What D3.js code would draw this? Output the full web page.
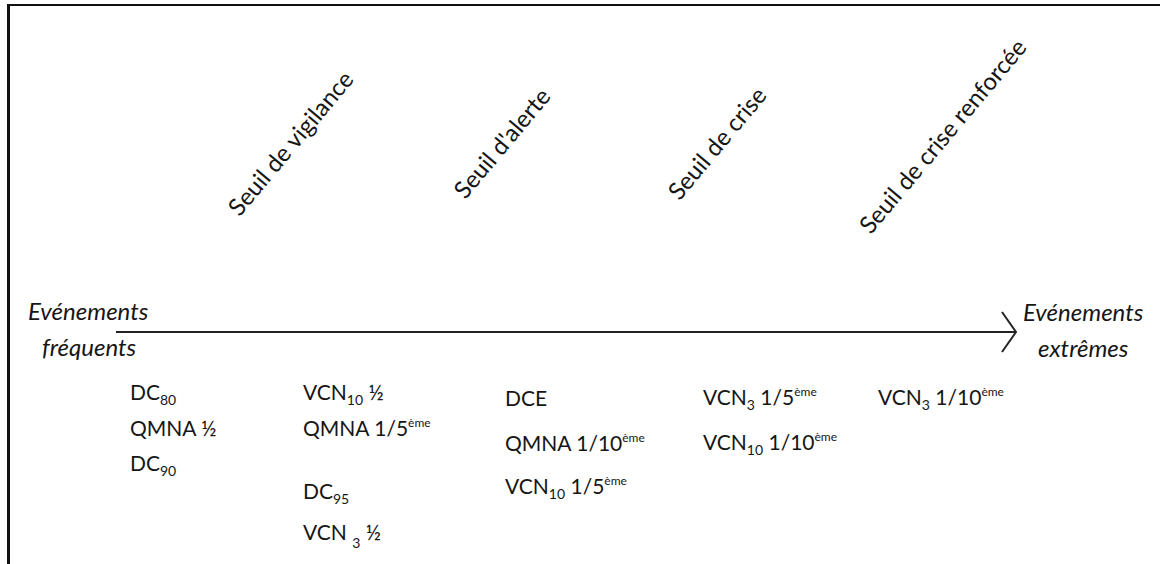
<!DOCTYPE html>
<html><head><meta charset="utf-8">
<script src="https://cdn.jsdelivr.net/npm/d3@7"></script>
<style>
body{margin:0;background:#fff}
svg{display:block}
text{font-family:Lato,'Open Sans',sans-serif;fill:#161616}
</style>
</head><body>
<svg id="chart" width="1160" height="564"></svg>
<script>
// ---- data ----
const thresholds = ["Seuil de vigilance", "Seuil d'alerte", "Seuil de crise", "Seuil de crise renforcée"];
const startLabel = ["Evénements", "fréquents"];
const endLabel = ["Evénements", "extrêmes"];
const col1Indicators = ["DC_{80}", "QMNA ½", "DC_{90}"];
const col2Indicators = ["VCN_{10} ½", "QMNA 1/5^{ème}", "DC_{95}", "VCN _{3} ½"];
const col3Indicators = ["DCE", "QMNA 1/10^{ème}", "VCN_{10} 1/5^{ème}"];
const col4Indicators = ["VCN_{3} 1/5^{ème}", "VCN_{10} 1/10^{ème}"];
const col5Indicators = ["VCN_{3} 1/10^{ème}"];
const columns = [col1Indicators, col2Indicators, col3Indicators, col4Indicators, col5Indicators];

// ---- layout ----
const svg = d3.select("#chart");
const W = 1160, H = 564;
const colIdx = d3.range(columns.length);
const xCol = d3.scaleOrdinal().domain(colIdx).range([130, 303, 505, 703, 878]);
// baseline of each row, per column
const rowY = [[400, 436, 471], [400, 436, 499, 540], [406, 451, 494], [405, 450], [405]];
const thrIdx = d3.range(thresholds.length);
const xThr = d3.scaleOrdinal().domain(thrIdx).range([355, 552, 768, 1028]);
const yThr = d3.scaleOrdinal().domain(thrIdx).range([80, 97, 96, 48]);
const FS = 21, FS_BIG = 24;

// frame
svg.append("line").attr("x1", 8.5).attr("x2", 8.5).attr("y1", 4).attr("y2", H)
  .attr("stroke", "#111").attr("stroke-width", 3);
svg.append("line").attr("x1", 7).attr("x2", W).attr("y1", 5).attr("y2", 5)
  .attr("stroke", "#111").attr("stroke-width", 2);

// axis arrow
const xAxis = d3.scaleLinear().domain([0, 1]).range([116, 1016]);
const yAxis = 332;
const line = d3.line();
svg.append("path").attr("d", line([[xAxis(0), yAxis], [xAxis(1), yAxis]]))
  .attr("stroke", "#222").attr("stroke-width", 2).attr("fill", "none");
svg.append("path").attr("d", line([[xAxis(1) - 14, yAxis - 20], [xAxis(1), yAxis], [xAxis(1) - 14, yAxis + 20]]))
  .attr("stroke", "#222").attr("stroke-width", 2).attr("fill", "none");

// end labels
function twoLine(lines, x, y, dx2) {
  const t = svg.append("text").attr("font-style", "italic").attr("font-size", FS_BIG);
  t.append("tspan").attr("x", x).attr("y", y).text(lines[0]);
  t.append("tspan").attr("x", x + dx2).attr("y", y + 36).text(lines[1]);
}
twoLine(startLabel, 28, 320, 14);
twoLine(endLabel, 1023, 321, 15);

// thresholds (rotated)
svg.selectAll("text.thr").data(thresholds).join("text")
  .attr("class", "thr")
  .attr("font-size", FS_BIG)
  .attr("text-anchor", "end")
  .attr("transform", (d, i) => `translate(${xThr(i)},${yThr(i)}) rotate(-50)`)
  .text(d => d);

// indicator text with sub/superscripts
function parse(s) {
  return s.split(/(_\{[^}]*\}|\^\{[^}]*\})/).filter(p => p.length).map(p => {
    if (p.startsWith("_{")) return {t: p.slice(2, -1), k: "sub"};
    if (p.startsWith("^{")) return {t: p.slice(2, -1), k: "sup"};
    return {t: p, k: "n"};
  });
}
const offs = {n: 0, sub: 5, sup: -9};
const sizes = {n: FS, sub: 14, sup: 12};
columns.forEach((items, ci) => {
  const g = svg.append("g");
  g.selectAll("text").data(items).join("text")
    .attr("x", xCol(ci))
    .attr("y", (d, ri) => rowY[ci][ri])
    .attr("font-size", FS)
    .each(function(d) {
      let cur = 0;
      const segs = parse(d);
      segs.forEach((s, si) => {
        // a subscript preceded by a space sits a little lower (as in the source)
        const extra = (s.k === "sub" && si > 0 && segs[si - 1].t.endsWith(" ")) ? 3 : 0;
        const off = offs[s.k] + extra;
        d3.select(this).append("tspan")
          .attr("dy", off - cur)
          .attr("font-size", sizes[s.k])
          .text(s.t);
        cur = off;
      });
    });
});
</script>
</body></html>
